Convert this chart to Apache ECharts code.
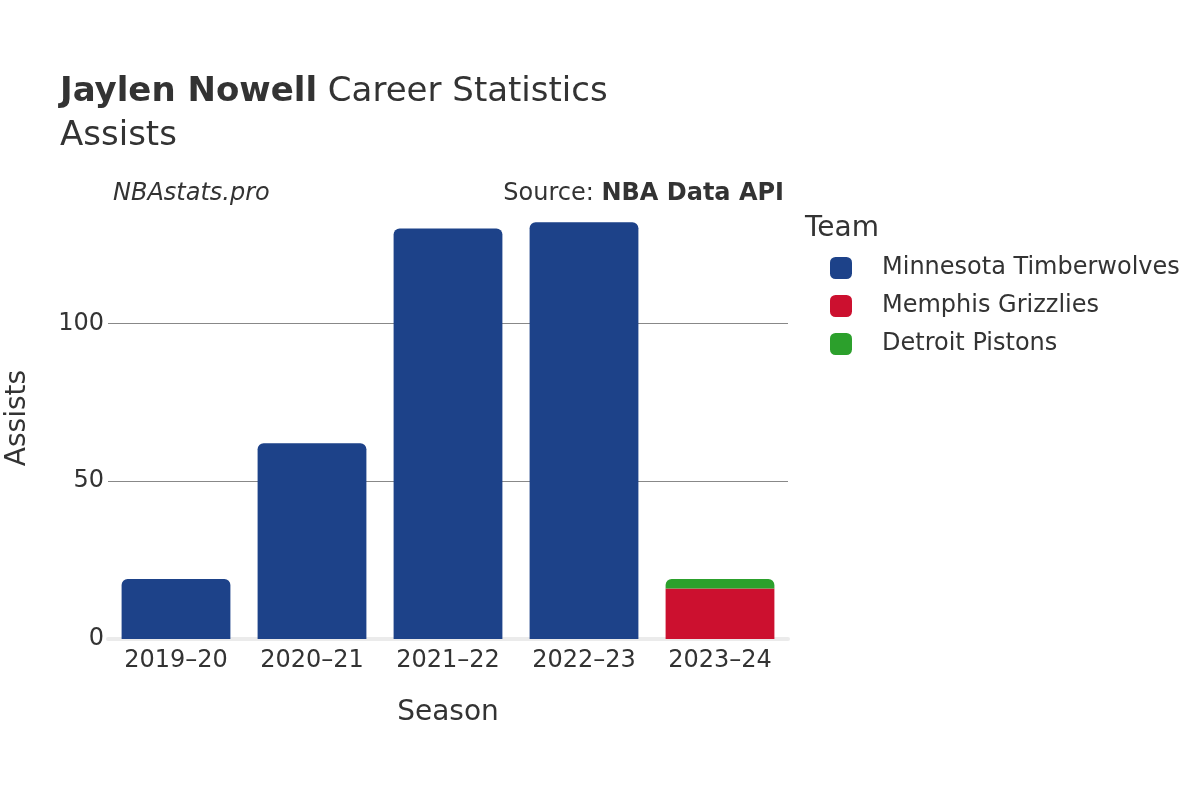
<!DOCTYPE html>
<html><head><meta charset="utf-8">
<script src="https://cdn.jsdelivr.net/npm/echarts@6/dist/echarts.min.js"></script>
<style>html,body{margin:0;background:#fff}#c{width:1200px;height:800px}</style>
</head><body><div id="c"></div>
<script>
const seasons = ["2019–20","2020–21","2021–22","2022–23","2023–24"];
const timberwolves = [19, 62, 130, 132, null];
const grizzlies = [null, null, null, null, 16];
const pistons = [null, null, null, null, 3];
const teams = ["Minnesota Timberwolves","Memphis Grizzlies","Detroit Pistons"];
const colors = ["#1d4289","#cc102f","#2ca02c"];
const font = "'DejaVu Sans', sans-serif";
const chart = echarts.init(document.getElementById('c'));
const mk = (name, data, color, r) => ({
  name, type: 'bar', stack: 'a', data, barCategoryGap: '20%',
  itemStyle: {color, borderRadius: r}
});
chart.setOption({
  animation: false,
  textStyle: {fontFamily: font},
  title: [
    {text: '{b|Jaylen Nowell} Career Statistics', left: 55, top: 70,
     textStyle: {fontSize: 34, fontWeight: 'normal', color: '#333', fontFamily: font,
       rich: {b: {fontSize: 34, fontWeight: 'bold', color: '#333', fontFamily: font}}}},
    {text: 'Assists', left: 55, top: 114, textStyle: {fontSize: 34, fontWeight: 'normal', color: '#333', fontFamily: font}},
    {text: 'NBAstats.pro', left: 108, top: 177, textStyle: {fontSize: 24, fontStyle: 'italic', fontWeight: 'normal', color: '#333', fontFamily: font}},
    {text: 'Source: {b|NBA Data API}', right: 411, top: 177,
     textStyle: {fontSize: 24, fontWeight: 'normal', color: '#333', fontFamily: font,
       rich: {b: {fontSize: 24, fontWeight: 'bold', color: '#333', fontFamily: font}}}},
    {text: 'Team', left: 800, top: 210, textStyle: {fontSize: 28, fontWeight: 'normal', color: '#333', fontFamily: font}}
  ],
  legend: {
    data: teams, orient: 'vertical', left: 825, top: 251, itemGap: 14,
    itemWidth: 22, itemHeight: 22, icon: 'roundRect',
    textStyle: {fontSize: 24, color: '#333', padding: [0,0,0,25], fontFamily: font}
  },
  grid: {left: 108, right: 412, top: 197, bottom: 161, outerBoundsMode: 'none', containLabel: false},
  xAxis: {
    type: 'category', data: seasons,
    name: 'Season', nameLocation: 'middle', nameGap: 60,
    nameTextStyle: {fontSize: 28, color: '#333'},
    axisLine: {lineStyle: {color: '#ebebeb', width: 4}},
    axisTick: {show: false},
    axisLabel: {fontSize: 24, color: '#333', margin: 10}
  },
  yAxis: {
    type: 'value', min: 0, max: 140, interval: 50,
    name: 'Assists', nameLocation: 'middle', nameGap: 76,
    nameTextStyle: {fontSize: 28, color: '#333'},
    axisLabel: {fontSize: 24, color: '#333', showMaxLabel: false, margin: 4},
    splitLine: {lineStyle: {color: '#888', width: 1}, showMaxLine: false, showMinLine: false}
  },
  series: [
    mk(teams[0], timberwolves, colors[0], [6,6,0,0]),
    mk(teams[1], grizzlies, colors[1], 0),
    mk(teams[2], pistons, colors[2], [6,6,0,0])
  ]
});
</script></body></html>
